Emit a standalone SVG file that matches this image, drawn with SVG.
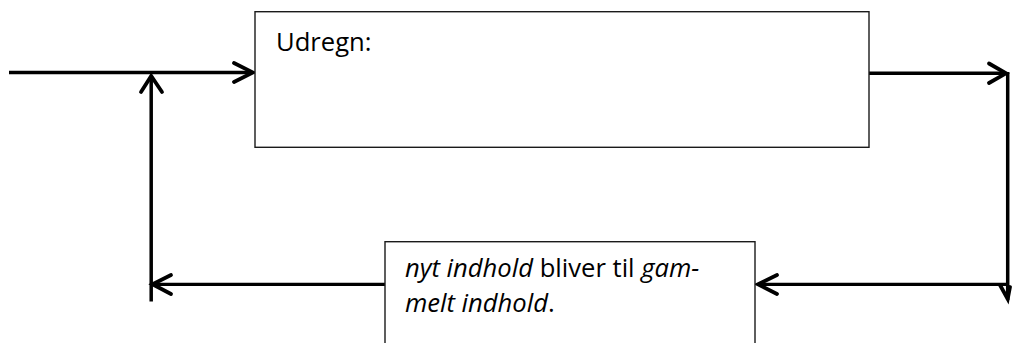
<svg xmlns="http://www.w3.org/2000/svg" width="1012" height="343" viewBox="0 0 1012 343">
  <style>
    .box { fill: #ffffff; stroke: #1a1a1a; stroke-width: 1.4; }
    .label { font-family: "Open Sans", "Liberation Sans", sans-serif; font-size: 25.6px; fill: #000000; }
    .it { font-style: italic; }
    .wire { fill: none; stroke: #000000; stroke-width: 3.5; stroke-linecap: butt; }
    .head { fill: none; stroke: #000000; stroke-width: 3.8; stroke-linecap: round; stroke-linejoin: miter; }
  </style>
  <rect width="1012" height="343" fill="#ffffff"/>

  <!-- connectors -->
  <g id="connectors">
    <!-- input into compute box -->
    <line class="wire" x1="9" y1="72.5" x2="252" y2="72.5"/>
    <polyline class="head" points="234,63 253,72.5 234,82"/>
    <!-- compute box out to the right edge and down -->
    <line class="wire" x1="869" y1="73.3" x2="1006" y2="73.3"/>
    <polyline class="head" points="989,63.5 1006,73.3 989,83"/>
    <line class="wire" x1="1007.7" y1="72" x2="1007.7" y2="300"/>
    <polyline class="head" points="1000,285 1007.7,299 1010,287"/>
    <!-- back along the bottom into the update box -->
    <line class="wire" x1="1006" y1="284.3" x2="759" y2="284.3" style="stroke-width:3.2"/>
    <polyline class="head" points="777,275 758,284.3 777,294"/>
    <!-- update box out to the left -->
    <line class="wire" x1="385" y1="284.3" x2="153" y2="284.3" style="stroke-width:3.2"/>
    <polyline class="head" points="171,275 152.5,284.3 171,294"/>
    <!-- feedback up to the input line -->
    <line class="wire" x1="151.2" y1="301.5" x2="151.2" y2="77"/>
    <polyline class="head" points="141,92 151.2,76 162,92"/>
  </g>

  <!-- compute box -->
  <g id="node-udregn">
    <rect class="box" x="255" y="11.7" width="614" height="135.6"/>
    <text class="label" x="276" y="50.5">Udregn:</text>
  </g>

  <!-- update box -->
  <g id="node-opdater">
    <rect class="box" x="385" y="241.7" width="370" height="130"/>
    <text class="label" x="405" y="277"><tspan class="it">nyt indhold</tspan> bliver til <tspan class="it">gam-</tspan></text>
    <text class="label" x="405" y="311.5"><tspan class="it">melt indhold</tspan>.</text>
  </g>
</svg>
